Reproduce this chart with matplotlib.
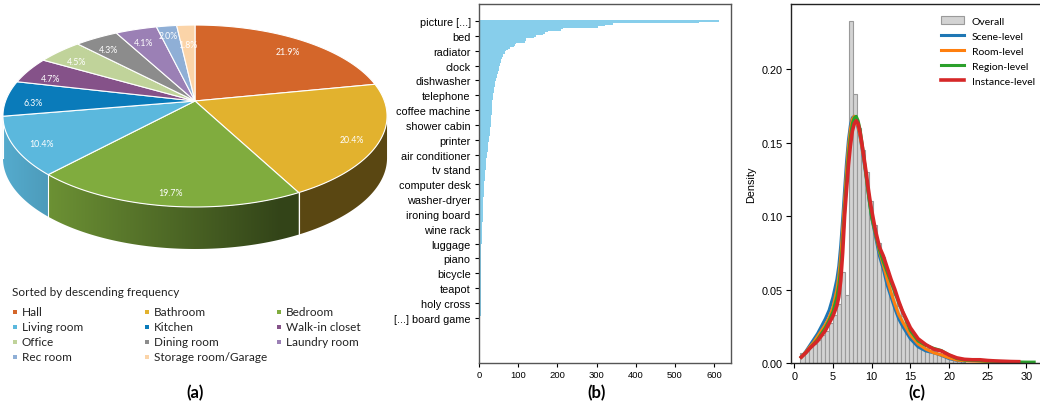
import numpy as np
import matplotlib
matplotlib.use("Agg")
import matplotlib.pyplot as plt
from matplotlib.patches import Polygon

plt.rcParams['font.family'] = ['Liberation Sans', 'DejaVu Sans']

# ---------------- (a) room types ----------------
rooms = ["Hall", "Bathroom", "Bedroom", "Living room", "Kitchen", "Walk-in closet",
         "Office", "Dining room", "Laundry room", "Rec room", "Storage room/Garage"]
room_pct = [21.9, 20.4, 19.7, 10.4, 6.3, 4.7, 4.5, 4.3, 4.1, 2.0, 1.8]
room_colors = ["#d4662a", "#e2b22e", "#80ac3e", "#5bb8dd", "#0a7bba", "#855289",
               "#c0d39a", "#8c8c8c", "#9b80b5", "#8fafd6", "#fbd4a8"]

# ---------------- (b) object counts ----------------
obj_counts = [
    612, 562, 342, 321, 304, 214, 209, 176, 168, 163,
    146, 140, 121, 119, 117, 95, 92, 90, 78, 75,
    70, 67, 66, 62, 60, 58, 57, 56, 55, 54,
    53, 52, 51, 50, 49, 48, 47, 46, 45, 44,
    43, 42, 41, 40, 40, 39, 38, 37, 37, 36,
    36, 35, 35, 35, 34, 34, 34, 33, 33, 33,
    32, 32, 32, 32, 31, 31, 31, 31, 31, 31,
    31, 30, 29, 29, 28, 28, 27, 27, 26, 26,
    25, 25, 24, 24, 23, 23, 22, 22, 22, 21,
    21, 20, 20, 19, 19, 18, 18, 18, 17, 17,
    17, 16, 16, 16, 15, 15, 15, 15, 14, 14,
    14, 13, 13, 13, 13, 12, 12, 12, 12, 11,
    11, 11, 11, 11, 11, 10, 10, 10, 10, 10,
    9, 9, 9, 9, 9, 9, 8, 8, 8, 8,
    8, 8, 8, 7, 7, 7, 7, 7, 7, 7,
    7, 6, 6, 6, 6, 6, 6, 6, 6, 6,
    6, 6, 5, 5, 5, 5, 5, 5, 5, 5,
    5, 5, 5, 5, 5, 5, 5, 5, 5, 4,
    4, 4, 4, 4, 4, 4, 4, 4, 4, 4,
    4, 4, 4, 4, 4, 4, 4, 4, 4, 3,
    3, 3, 3, 3, 3, 3, 3, 3, 3, 3,
    3, 3, 3, 3, 3, 3, 3, 3, 2, 2,
]
obj_labels = ["picture [...]", "bed", "radiator", "clock", "dishwasher", "telephone",
              "coffee machine", "shower cabin", "printer", "air conditioner", "tv stand",
              "computer desk", "washer-dryer", "ironing board", "wine rack", "luggage",
              "piano", "bicycle", "teapot", "holy cross", "[...] board game"]

# ---------------- (c) densities ----------------
hist_start = 0.80
hist_width = 0.52
hist_density = [0.007, 0.009, 0.011, 0.013, 0.016, 0.019, 0.022, 0.027, 0.033, 0.040,
                0.062, 0.046, 0.233, 0.183, 0.160, 0.145, 0.130, 0.110, 0.094, 0.082,
                0.072, 0.063, 0.054, 0.046, 0.039, 0.032, 0.026, 0.021, 0.017, 0.014,
                0.012, 0.010, 0.009, 0.008, 0.007, 0.006, 0.005, 0.004, 0.003, 0.002]

kde_x = [0.9, 1.5, 2, 2.5, 3, 3.5, 4, 4.5, 5,
         5.5, 5.75, 6, 6.25, 6.5, 6.75, 7, 7.25, 7.5, 7.75, 8, 8.25, 8.5, 8.75,
         9, 9.25, 9.5, 9.75, 10,
         10.5, 11, 11.5, 12, 12.5, 13, 13.5, 14, 15, 16, 17, 18, 19, 20, 21, 22,
         23, 24, 25, 26, 27, 28, 29, 30, 31]
nan = np.nan
scene = [0.004, 0.008, 0.012, 0.016, 0.020, 0.025, 0.030, 0.036, 0.045,
         0.057, 0.066, 0.080, 0.098, 0.118, 0.137, 0.152, 0.162, 0.167, 0.168, 0.165, 0.160, 0.154, 0.146,
         0.137, 0.128, 0.118, 0.108, 0.099,
         0.086, 0.073, 0.064, 0.053, 0.045, 0.037, 0.030, 0.025, 0.0165, 0.011, 0.0082, 0.007, 0.0052,
         0.003, 0.0018, 0.0012, nan, nan, nan, nan, nan, nan, nan, nan, nan]
room = [0.004, 0.0075, 0.011, 0.014, 0.018, 0.022, 0.026, 0.031, 0.038,
        0.050, 0.059, 0.072, 0.090, 0.110, 0.130, 0.147, 0.159, 0.166, 0.168, 0.166, 0.161, 0.155, 0.147,
        0.139, 0.129, 0.119, 0.110, 0.101,
        0.088, 0.076, 0.067, 0.057, 0.048, 0.040, 0.033, 0.028, 0.019, 0.013, 0.0095, 0.007, 0.0055,
        0.0035, 0.002, 0.0015, 0.0013, 0.0012, 0.001, 0.0009, 0.0008, 0.0007, nan, nan, nan]
region = [0.004, 0.007, 0.010, 0.013, 0.016, 0.020, 0.024, 0.029, 0.035,
          0.045, 0.053, 0.065, 0.082, 0.103, 0.124, 0.141, 0.154, 0.163, 0.167, 0.168, 0.165, 0.159, 0.150,
          0.140, 0.129, 0.118, 0.108, 0.099,
          0.088, 0.077, 0.069, 0.062, 0.055, 0.048, 0.041, 0.035, 0.022, 0.015, 0.012, 0.010, 0.0085,
          0.0055, 0.003, 0.002, 0.0018, 0.0016, 0.0013, 0.0011, 0.0009, 0.0008, 0.0007, 0.0006, 0.0006]
instance = [0.004, 0.007, 0.010, 0.0125, 0.015, 0.0185, 0.022, 0.027, 0.032,
            0.039, 0.045, 0.056, 0.075, 0.100, 0.118, 0.135, 0.148, 0.158, 0.163, 0.165, 0.163, 0.157, 0.149,
            0.140, 0.131, 0.121, 0.112, 0.104,
            0.090, 0.079, 0.073, 0.065, 0.057, 0.050, 0.042, 0.035, 0.024, 0.0165, 0.0125, 0.0095, 0.0082,
            0.0055, 0.0035, 0.0025, 0.0022, 0.0022, 0.0017, 0.0014, 0.0012, 0.001, 0.0009, nan, nan]

W, H = 1040, 406
fig = plt.figure(figsize=(W / 100, H / 100), dpi=100)


def fx(px):
    return px / W


def fy(py):
    return 1 - py / H


# ---------- (a) 3D-looking pie, drawn in pixel coordinates ----------
axp = fig.add_axes([0, 0, 400 / W, 1])
axp.axis('off')

CX, CY, A, B, K, DEPTH = 195, 102, 189.4, 88.5, 0.165, 42


def proj(t_deg, r=1.0):
    t = np.radians(t_deg)
    x = r * np.cos(t)
    y = r * np.sin(t)
    d = 1.0 / (1.0 + K * y)
    return CX + A * x * d, CY - B * y * d


fracs = np.array(room_pct) / np.sum(room_pct)
ends = 90 - 360 * np.cumsum(fracs)
starts = np.concatenate([[90], ends[:-1]])
front_lo, front_hi = -180 + np.degrees(np.arcsin(K)), -np.degrees(np.arcsin(K))

# side wall with left-to-right darkening
cols_x = np.arange(0, 401)
shade_f = np.clip(0.936 - 0.00192 * cols_x, 0.40, 1.0)
for a0, a1, col in zip(starts, ends, room_colors):
    lo, hi = max(a1, front_lo), min(a0, front_hi)
    if hi <= lo:
        continue
    ts = np.linspace(hi, lo, 200)
    xs, ys = proj(ts)
    poly = np.column_stack([np.concatenate([xs, xs[::-1]]),
                            np.concatenate([ys, ys[::-1] + DEPTH])])
    patch = Polygon(poly, closed=True, facecolor='none', edgecolor='none')
    axp.add_patch(patch)
    base = np.array(matplotlib.colors.to_rgb(col))
    img = (shade_f[:, None] * base[None, :])[None, :, :]
    im = axp.imshow(img, extent=(0, 400, 300, 0), aspect='auto', interpolation='bilinear',
                    zorder=1)
    im.set_clip_path(patch)
for a in starts:
    if front_lo < a < front_hi:
        x0, y0 = proj(a)
        axp.plot([x0, x0], [y0, y0 + DEPTH], color='white', lw=0.8, zorder=2)
axp.set_xlim(0, 400)
axp.set_ylim(H, 0)

# top face
for a0, a1, col in zip(starts, ends, room_colors):
    ts = np.linspace(a0, a1, max(int((a0 - a1) * 2), 4))
    xs, ys = proj(ts)
    axp.fill(np.concatenate([[CX], xs]), np.concatenate([[CY], ys]),
             facecolor=col, edgecolor='white', lw=0.8, zorder=3)

for i, (a0, a1, p) in enumerate(zip(starts, ends, room_pct)):
    r = 0.86
    if p < 3:
        r = 0.92 if i % 2 else 0.77
    lx, ly = proj((a0 + a1) / 2, r)
    axp.text(lx, ly + 4, f"{p:.1f}%", color='white', fontsize=6.3, family='Lato',
             ha='center', va='center', zorder=4)

# legend
axp.text(12, 293, "Sorted by descending frequency", fontsize=8.5, family='Lato',
         ha='left', va='center', color='#222222')
for i, (name, col) in enumerate(zip(rooms, room_colors)):
    cx = 15 + 132 * (i % 3)
    cy = 313 + 15 * (i // 3)
    axp.scatter([cx], [cy], marker='s', s=9, color=col, lw=0)
    axp.text(cx + 7, cy, name, fontsize=8.5, family='Lato', ha='left', va='center',
             color='#222222')

# ---------- (b) object frequency ----------
axb = fig.add_axes([fx(479), fy(364), (731 - 479) / W, (364 - 5) / H])
axb.barh(np.arange(len(obj_counts)), obj_counts, height=1.0, color='skyblue', lw=0)
axb.set_ylim(len(obj_counts) - 0.5 + 11, -11.5)
axb.set_xlim(0, 643)
axb.set_yticks(np.arange(0, 10 * len(obj_labels), 10))
axb.set_yticklabels(obj_labels, fontsize=7.8)
axb.set_xticks(range(0, 700, 100))
axb.tick_params(axis='x', labelsize=6.8, length=3, pad=2)
axb.tick_params(axis='y', length=3, pad=3)
for s in axb.spines.values():
    s.set_color('#555555')
    s.set_linewidth(1.0)

# ---------- (c) density ----------
axc = fig.add_axes([fx(790.7), fy(364), (1045 - 790.7) / W, (364 - 4.7) / H])
hist_edges = hist_start + hist_width * np.arange(len(hist_density))
bars = axc.bar(hist_edges, hist_density, width=hist_width, align='edge', color='#d3d3d3',
               edgecolor='#9a9a9a', lw=0.8, label='Overall')
l1, = axc.plot(kde_x, scene, color='#1f77b4', lw=2.2, label='Scene-level')
l2, = axc.plot(kde_x, room, color='#ff7f0e', lw=2.2, label='Room-level')
l3, = axc.plot(kde_x, region, color='#2ca02c', lw=2.2, label='Region-level')
l4, = axc.plot(kde_x, instance, color='#d62728', lw=2.6, label='Instance-level')
axc.set_xlim(-0.466, 32.4)
axc.set_ylim(0, 0.2447)
axc.set_xticks(range(0, 31, 5))
axc.set_yticks([0.0, 0.05, 0.10, 0.15, 0.20])
axc.set_yticklabels(["0.00", "0.05", "0.10", "0.15", "0.20"])
axc.tick_params(labelsize=7.8, length=3.5, pad=2)
axc.set_ylabel("Density", fontsize=7.8, labelpad=4)
for s in axc.spines.values():
    s.set_color('#222222')
    s.set_linewidth(1.0)
axc.legend([bars, l1, l2, l3, l4],
           ['Overall', 'Scene-level', 'Room-level', 'Region-level', 'Instance-level'],
           loc='upper left', bbox_to_anchor=(fx(932), fy(8)), bbox_transform=fig.transFigure,
           frameon=False, prop={'family': 'Lato', 'size': 7.5}, handlelength=2.2,
           labelspacing=0.55, handletextpad=0.7)

for lbl, px in [("(a)", 195), ("(b)", 597), ("(c)", 917)]:
    fig.text(fx(px), fy(393), lbl, fontsize=12, fontweight='bold', family='Lato',
             ha='center', va='center')

fig.savefig("out.png", dpi=100)
